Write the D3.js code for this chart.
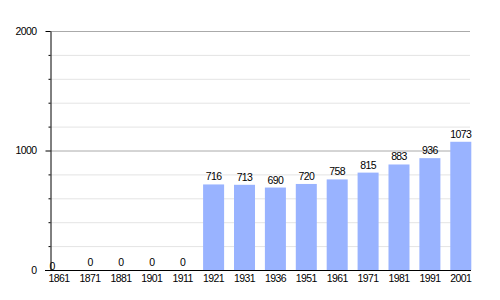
<!DOCTYPE html>
<html>
<head>
<meta charset="utf-8">
<script src="https://cdn.jsdelivr.net/npm/d3@7"></script>
<style>
  body { margin: 0; background: #fff; }
  text { font-family: "Liberation Sans", Arial, sans-serif; font-size: 10.5px; letter-spacing: -0.6px; fill: #000; }
</style>
</head>
<body>
<div class="chart"></div>
<script>
// Data.
const years = ['1861', '1871', '1881', '1901', '1911', '1921', '1931', '1936', '1951', '1961', '1971', '1981', '1991', '2001'];
const population = [0, 0, 0, 0, 0, 716, 713, 690, 720, 758, 815, 883, 936, 1073];
const majorTicks = [0, 1000, 2000];
const minorTicks = d3.range(0, 2001, 200);

const chartData = years.map((y, i) => ({year: y, value: population[i]}));

// Base.
const svg = d3.select('.chart')
  .append('svg')
  .attr('width', 500)
  .attr('height', 300);

// Scales.
const xScale = d3
  .scaleBand()
  .domain(years)
  .range([48.6, 471.3])
  .paddingInner(0.32)
  .paddingOuter(0);

const yScale = d3
  .scaleLinear()
  .domain([0, 2000])
  .range([270, 31]);

// Grid lines.
svg.append('g')
  .selectAll('line')
  .data(minorTicks.filter(d => !majorTicks.includes(d)))
  .enter()
  .append('line')
  .attr('x1', 50)
  .attr('x2', 470)
  .attr('y1', d => yScale(d) + 0.5)
  .attr('y2', d => yScale(d) + 0.5)
  .style('stroke', '#e4e4e4');

svg.append('g')
  .selectAll('line')
  .data(majorTicks.filter(d => d > 0))
  .enter()
  .append('line')
  .attr('x1', 50)
  .attr('x2', 470)
  .attr('y1', d => yScale(d) + 0.5)
  .attr('y2', d => yScale(d) + 0.5)
  .style('stroke', '#aaaaaa');

// Bars.
svg.append('g')
  .selectAll('.bar')
  .data(chartData)
  .enter()
  .append('rect')
  .attr('class', 'bar')
  .attr('x', d => xScale(d.year))
  .attr('y', d => yScale(d.value))
  .attr('width', xScale.bandwidth())
  .attr('height', d => yScale(0) - yScale(d.value))
  .style('fill', '#99b3ff');

// Value labels.
svg.append('g')
  .selectAll('text')
  .data(chartData)
  .enter()
  .append('text')
  .attr('x', (d, i) => i === 0 ? xScale(d.year) + 1 : xScale(d.year) + xScale.bandwidth() / 2)
  .attr('y', (d, i) => i === 0 ? yScale(0) : yScale(d.value) - 4)
  .attr('text-anchor', (d, i) => i === 0 ? 'start' : 'middle')
  .text(d => d.value);

// Y axis.
const yAxis = d3.axisLeft(yScale)
  .tickValues(majorTicks)
  .tickFormat(d3.format('d'))
  .tickSizeInner(5)
  .tickSizeOuter(0)
  .tickPadding(9);

const yAxisDraw = svg.append('g')
  .attr('class', 'y axis')
  .attr('transform', 'translate(50.5,0)')
  .call(yAxis);

yAxisDraw.selectAll('text').style('font-size', null).style('font-family', null).attr('font-size', null).attr('font-family', null);
yAxisDraw.attr('font-size', null).attr('font-family', null);

yAxisDraw.append('g')
  .selectAll('line')
  .data(minorTicks.filter(d => !majorTicks.includes(d)))
  .enter()
  .append('line')
  .attr('x1', -2)
  .attr('x2', 0)
  .attr('y1', d => yScale(d) + 0.5)
  .attr('y2', d => yScale(d) + 0.5)
  .style('stroke', '#000');

// X axis.
const xAxis = d3.axisBottom(xScale)
  .tickSize(0)
  .tickPadding(4);

const xAxisDraw = svg.append('g')
  .attr('class', 'x axis')
  .attr('transform', 'translate(0,270.5)')
  .attr('font-size', null)
  .attr('font-family', null)
  .call(xAxis);

xAxisDraw.attr('font-size', null).attr('font-family', null);

xAxisDraw.select('.domain')
  .attr('d', 'M45,0H471');
</script>
</body>
</html>
